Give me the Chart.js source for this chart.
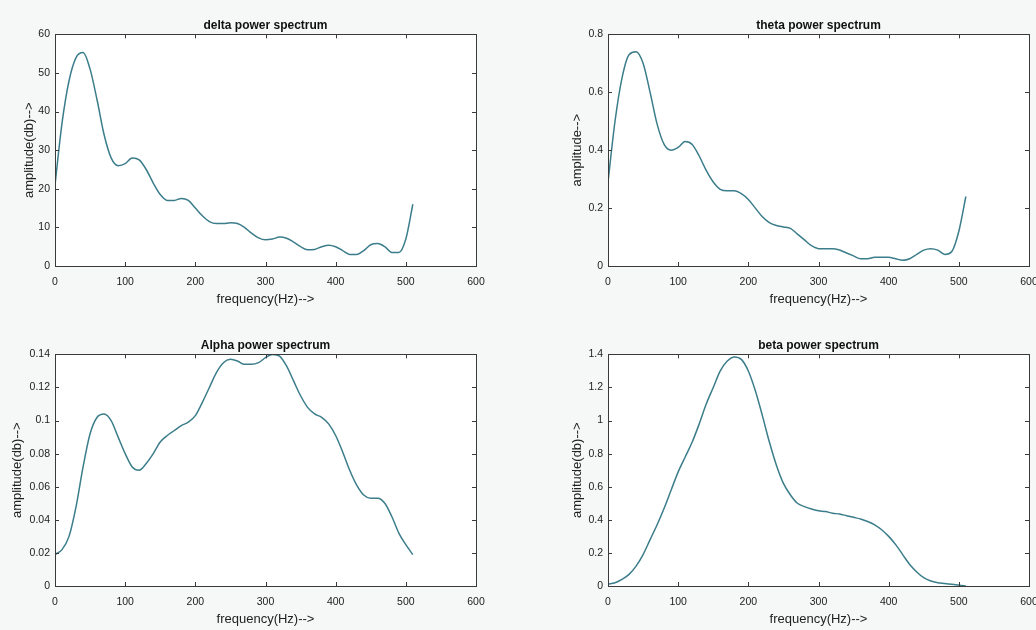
<!DOCTYPE html>
<html>
<head>
<meta charset="utf-8">
<script src="https://cdn.jsdelivr.net/npm/chart.js@4/dist/chart.umd.min.js"></script>
<style>
  body { margin: 0; background: #f6f7f7; width: 1036px; height: 630px; overflow: hidden; }
  .panel { position: absolute; width: 518px; height: 310px; }
</style>
</head>
<body>
<div class="panel" style="left:0;top:0"><canvas id="delta" width="518" height="310"></canvas></div>
<div class="panel" style="left:518px;top:0"><canvas id="theta" width="518" height="310"></canvas></div>
<div class="panel" style="left:0;top:320px"><canvas id="alpha" width="518" height="310"></canvas></div>
<div class="panel" style="left:518px;top:320px"><canvas id="beta" width="518" height="310"></canvas></div>
<script>
// frequency samples (Hz)
const freq = [0, 10, 20, 30, 40, 50, 60, 70, 80, 90, 100, 110, 120, 130, 140, 150, 160, 170, 180, 190,
  200, 210, 220, 230, 240, 250, 260, 270, 280, 290, 300, 310, 320, 330, 340, 350, 360, 370, 380, 390,
  400, 410, 420, 430, 440, 450, 460, 470, 480, 490, 500, 510];

const deltaVals = [21, 37, 48, 54, 55.3, 51, 43, 34, 28, 26, 26.5, 28, 27.5, 25, 21.5, 18.5, 17, 17, 17.5, 17,
  15, 13, 11.5, 11, 11, 11.2, 11, 10, 8.5, 7.3, 6.8, 7, 7.5, 7.2, 6.2, 5, 4.2, 4.3, 5, 5.4,
  5, 4, 3, 3, 4, 5.5, 5.8, 5, 3.5, 3.5, 7, 16];

const thetaVals = [0.29, 0.5, 0.65, 0.73, 0.74, 0.7, 0.6, 0.49, 0.42, 0.4, 0.41, 0.43, 0.42, 0.38, 0.33, 0.29, 0.265, 0.26, 0.26, 0.25,
  0.23, 0.2, 0.17, 0.15, 0.14, 0.135, 0.13, 0.11, 0.09, 0.07, 0.06, 0.06, 0.06, 0.055, 0.045, 0.035, 0.025, 0.025, 0.03, 0.03,
  0.03, 0.025, 0.02, 0.025, 0.04, 0.055, 0.06, 0.055, 0.04, 0.05, 0.12, 0.24];

const alphaVals = [0.019, 0.022, 0.03, 0.048, 0.072, 0.092, 0.102, 0.104, 0.1, 0.09, 0.08, 0.072, 0.07, 0.074, 0.08, 0.087, 0.091, 0.094, 0.097, 0.099,
  0.103, 0.111, 0.12, 0.129, 0.135, 0.137, 0.136, 0.134, 0.134, 0.135, 0.138, 0.14, 0.139, 0.133, 0.124, 0.115, 0.108, 0.104, 0.102, 0.098,
  0.091, 0.081, 0.07, 0.061, 0.055, 0.053, 0.053, 0.05, 0.042, 0.032, 0.025, 0.019];

const betaVals = [0.01, 0.02, 0.04, 0.07, 0.12, 0.19, 0.28, 0.37, 0.47, 0.58, 0.69, 0.78, 0.87, 0.98, 1.1, 1.2, 1.3, 1.36, 1.385, 1.37,
  1.3, 1.18, 1.03, 0.87, 0.73, 0.62, 0.55, 0.5, 0.48, 0.465, 0.455, 0.45, 0.44, 0.435, 0.425, 0.415, 0.405, 0.39, 0.37, 0.34,
  0.3, 0.25, 0.19, 0.13, 0.085, 0.05, 0.03, 0.02, 0.015, 0.01, 0.005, 0];

const xTicks = [0, 100, 200, 300, 400, 500, 600];

const FONT = "'Liberation Sans', Arial, sans-serif";
const LINE = '#3b7d8a';

// white axes background + MATLAB style box with inward tick marks
const boxPlugin = {
  id: 'box',
  beforeDraw(chart) {
    const { ctx, chartArea: a } = chart;
    ctx.save();
    ctx.fillStyle = '#fff';
    ctx.fillRect(a.left, a.top, a.right - a.left, a.bottom - a.top);
    ctx.restore();
  },
  afterDraw(chart) {
    const { ctx, chartArea: a, scales } = chart;
    ctx.save();
    ctx.strokeStyle = '#3a3a3a';
    ctx.lineWidth = 1;
    ctx.strokeRect(Math.round(a.left) + 0.5, Math.round(a.top) + 0.5,
      Math.round(a.right - a.left), Math.round(a.bottom - a.top));
    ctx.beginPath();
    scales.x.ticks.forEach(t => {
      const px = Math.round(scales.x.getPixelForValue(t.value)) + 0.5;
      ctx.moveTo(px, a.bottom); ctx.lineTo(px, a.bottom - 4);
      ctx.moveTo(px, a.top); ctx.lineTo(px, a.top + 4);
    });
    scales.y.ticks.forEach(t => {
      const py = Math.round(scales.y.getPixelForValue(t.value)) + 0.5;
      ctx.moveTo(a.left, py); ctx.lineTo(a.left + 4, py);
      ctx.moveTo(a.right, py); ctx.lineTo(a.right - 4, py);
    });
    ctx.stroke();
    ctx.restore();
  }
};

function makeChart(id, title, yLabel, values, yMax, yStep, left, yTitlePad) {
  const ctx = document.getElementById(id).getContext('2d');
  return new Chart(ctx, {
    type: 'line',
    data: {
      datasets: [{
        data: freq.map((f, i) => ({ x: f, y: values[i] })),
        borderColor: LINE,
        borderWidth: 1.5,
        pointRadius: 0,
        fill: false,
        cubicInterpolationMode: 'monotone'
      }]
    },
    options: {
      responsive: false,
      animation: false,
      layout: { padding: { top: 8, right: 518 - left - 421, bottom: 0, left: 0 } },
      plugins: {
        legend: { display: false },
        tooltip: { enabled: false },
        title: {
          display: true,
          fullSize: false,
          text: title,
          color: '#111',
          font: { family: FONT, size: 12, weight: 'bold' },
          padding: { top: 10, bottom: 2 }
        }
      },
      scales: {
        x: {
          type: 'linear',
          min: 0, max: 600,
          afterBuildTicks: s => { s.ticks = xTicks.map(v => ({ value: v })); },
          afterFit: s => { s.height = 310 - 266; s.paddingLeft = 0; s.paddingRight = 0; },
          grid: { display: false, drawTicks: false },
          border: { display: false },
          ticks: { color: '#222', font: { family: FONT, size: 10.5 }, padding: 10, maxRotation: 0 },
          title: {
            display: true, text: 'frequency(Hz)-->', color: '#222',
            font: { family: FONT, size: 13 }, padding: { top: 0, bottom: 3 }
          }
        },
        y: {
          min: 0, max: yMax,
          ticks: {
            stepSize: yStep, color: '#222', font: { family: FONT, size: 10.5 }, padding: 5,
            callback: v => String(Number(v.toFixed(4)))
          },
          afterFit: s => { s.width = left; s.paddingTop = 0; s.paddingBottom = 0; },
          grid: { display: false, drawTicks: false },
          border: { display: false },
          title: {
            display: true, text: yLabel, color: '#222',
            font: { family: FONT, size: 13 }, padding: { top: yTitlePad, bottom: 0 }
          }
        }
      }
    },
    plugins: [boxPlugin]
  });
}

makeChart('delta', 'delta power spectrum', 'amplitude(db)-->', deltaVals, 60, 10, 55, 22);
makeChart('theta', 'theta power spectrum', 'amplitude-->', thetaVals, 0.8, 0.2, 90, 52);
makeChart('alpha', 'Alpha power spectrum', 'amplitude(db)-->', alphaVals, 0.14, 0.02, 55, 10);
makeChart('beta', 'beta power spectrum', 'amplitude(db)-->', betaVals, 1.4, 0.2, 90, 52);
</script>
</body>
</html>
